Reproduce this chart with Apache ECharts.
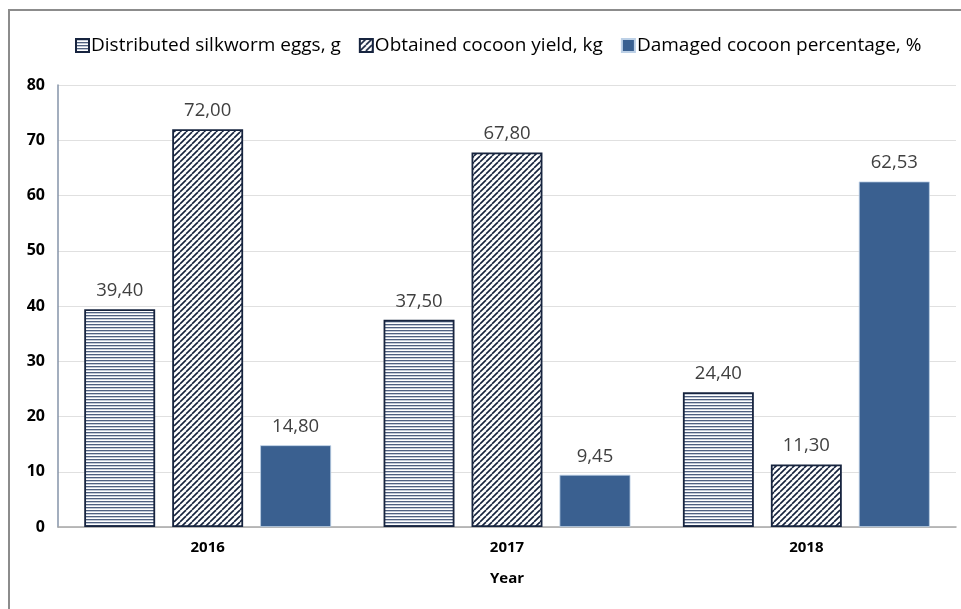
<!DOCTYPE html>
<html><head><meta charset="utf-8">
<script src="https://cdn.jsdelivr.net/npm/echarts@6/dist/echarts.min.js"></script>
<style>html,body{margin:0;padding:0;background:#fff}#c{width:961px;height:609px}</style>
</head><body><div id="c"></div>
<script>
var categories = ['2016', '2017', '2018'];
var seriesNames = ['Distributed silkworm eggs, g', 'Obtained cocoon yield, kg', 'Damaged cocoon percentage, %'];
var eggs = [39.40, 37.50, 24.40];
var cocoonYield = [72.00, 67.80, 11.30];
var damaged = [14.80, 9.45, 62.53];
var yTicks = [0, 10, 20, 30, 40, 50, 60, 70, 80];

function hLines() {
  var c = document.createElement('canvas'); c.width = 4; c.height = 3;
  var g = c.getContext('2d');
  g.fillStyle = '#ffffff'; g.fillRect(0, 0, 4, 3);
  g.fillStyle = '#4f6080'; g.fillRect(0, 0, 4, 1);
  g.fillStyle = '#c3cbd8'; g.fillRect(0, 1, 4, 1);
  return c;
}
function diag() {
  var s = 6;
  var c = document.createElement('canvas'); c.width = s; c.height = s;
  var g = c.getContext('2d');
  g.fillStyle = '#ffffff'; g.fillRect(0, 0, s, s);
  g.strokeStyle = '#15223d'; g.lineWidth = 1.6;
  for (var k = -1; k <= 1; k++) {
    g.beginPath(); g.moveTo(k * s, s); g.lineTo(k * s + s, 0); g.stroke();
  }
  return c;
}
var fmt = function (p) { return p.value.toFixed(2).replace('.', ','); };
var font = 'Open Sans';
var labelCfg = { show: true, position: 'top', distance: 9, formatter: fmt, color: '#404040', fontSize: 18.5, fontFamily: font };

var chart = echarts.init(document.getElementById('c'), null, { renderer: 'canvas' });
chart.setOption({
  animation: false,
  graphic: [{ type: 'rect', shape: { x: 9, y: 10, width: 1000, height: 700 }, style: { fill: 'none', stroke: '#8c8c8c', lineWidth: 2 } }],
  legend: {
    top: 31, left: 70, itemWidth: 13, itemHeight: 13, itemGap: 18,
    textStyle: { fontSize: 19, fontFamily: font, color: '#000', padding: [0, 0, 0, -3] },
    data: seriesNames.map(function (n) { return { name: n, icon: 'rect' }; })
  },
  grid: { left: 58, right: 5, top: 85, bottom: 82, containLabel: false },
  xAxis: {
    type: 'category', data: categories,
    name: 'Year', nameLocation: 'middle', nameGap: 44,
    nameTextStyle: { fontSize: 15, fontWeight: 'bold', fontFamily: font, color: '#000' },
    axisLine: { lineStyle: { color: '#a6a6a6', width: 1.5 } },
    axisTick: { show: false },
    axisLabel: { fontSize: 15, fontWeight: 'bold', fontFamily: font, color: '#000', margin: 13 }
  },
  yAxis: {
    type: 'value', min: 0, max: 80, interval: 10,
    axisLine: { show: true, lineStyle: { color: '#8593a8', width: 1.5 } },
    axisTick: { show: false },
    splitLine: { lineStyle: { color: '#e0e0e0', width: 1 } },
    axisLabel: { fontSize: 16, fontWeight: 'bold', fontFamily: font, color: '#000', margin: 13,
      formatter: function (v) { return yTicks.indexOf(v) >= 0 ? String(v) : ''; } }
  },
  series: [
    { name: seriesNames[0], type: 'bar', data: eggs, barWidth: '23.7%', barGap: '24%',
      itemStyle: { color: { image: hLines(), repeat: 'repeat' }, borderColor: '#17243f', borderWidth: 1.8 }, label: labelCfg },
    { name: seriesNames[1], type: 'bar', data: cocoonYield, barWidth: '23.7%', barGap: '24%',
      itemStyle: { color: { image: diag(), repeat: 'repeat' }, borderColor: '#17243f', borderWidth: 1.8 }, label: labelCfg },
    { name: seriesNames[2], type: 'bar', data: damaged, barWidth: '23.7%', barGap: '24%',
      itemStyle: { color: '#3a6090', borderColor: '#bcd0e6', borderWidth: 0.8 }, label: labelCfg }
  ]
});
</script></body></html>
